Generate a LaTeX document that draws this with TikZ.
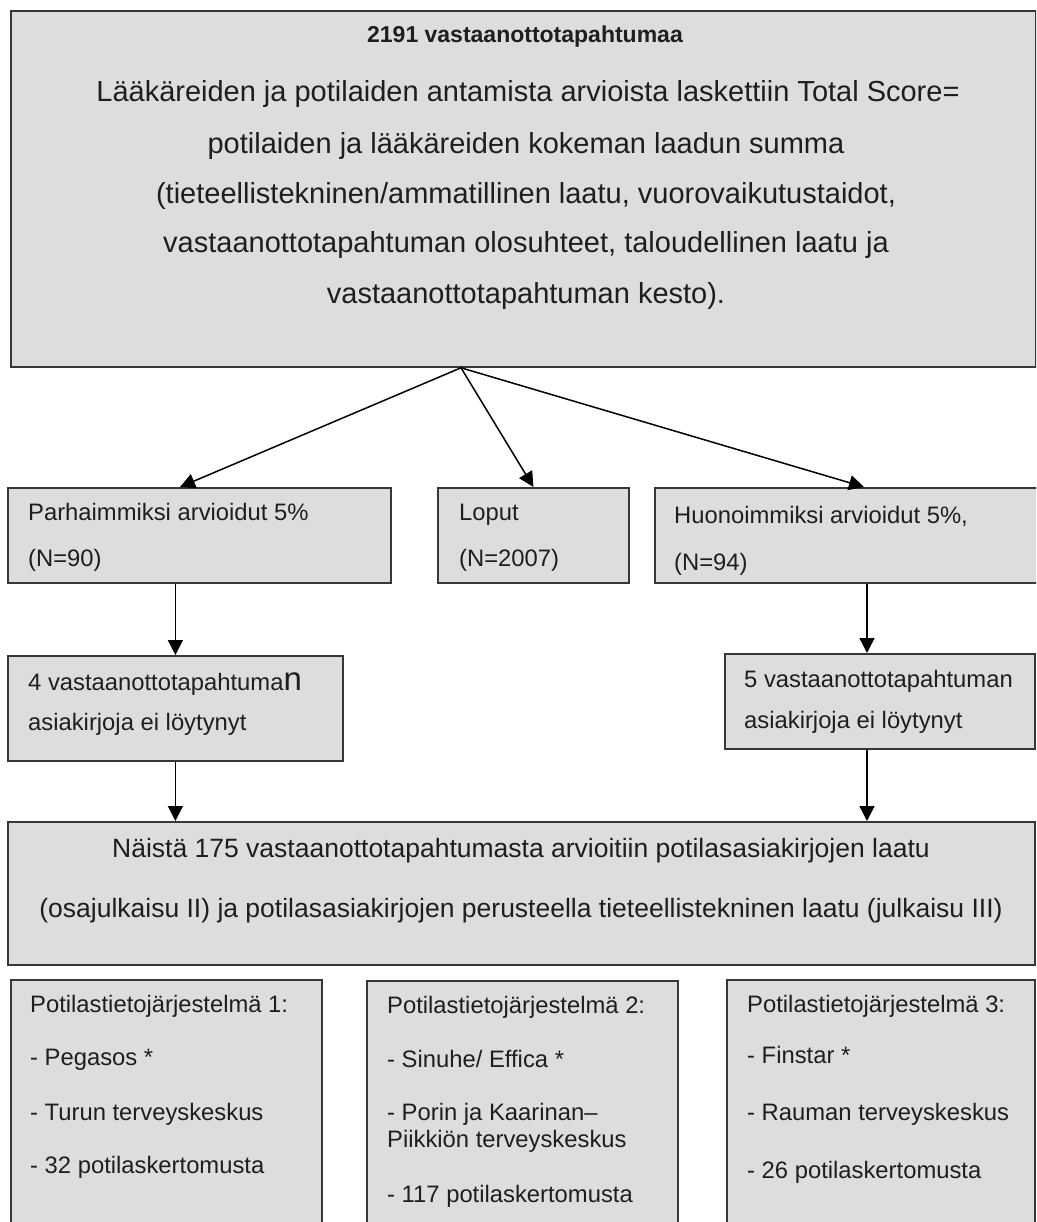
\documentclass[tikz,border=0pt]{standalone}
\usepackage{fontspec}
\setmainfont{Liberation Sans}
\usetikzlibrary{arrows.meta}
\definecolor{boxgray}{RGB}{220,221,223}
\definecolor{edgegray}{RGB}{55,55,55}
\definecolor{inkgray}{RGB}{30,30,30}
\tikzset{
  box/.style={draw=edgegray, line width=1.8pt, fill=boxgray, inner sep=0pt, anchor=north west, rectangle},
  txt/.style={inner sep=0pt, anchor=base west, text=inkgray, font=\fontsize{23.8}{28}\selectfont},
  ctxt/.style={inner sep=0pt, anchor=base, text=inkgray},
  arr/.style={draw=black, line width=1.5pt, -{Triangle[length=15pt,width=15pt]}},
}
\begin{document}
\begin{tikzpicture}[x=1pt,y=-1pt]
\useasboundingbox (0,0) rectangle (1036,1222);
\clip (0,0) rectangle (1036,1222);
\fill[white] (0,0) rectangle (1036,1222);

% boxes
\node[box, minimum width=1025pt, minimum height=356pt] (top) at (10,10) {};
\node[box, minimum width=383pt, minimum height=95pt] (best) at (7,487) {};
\node[box, minimum width=191pt, minimum height=95pt] (rest) at (437,487) {};
\node[box, minimum width=384pt, minimum height=95pt] (worst) at (654,487) {};
\node[box, minimum width=335pt, minimum height=105pt] (miss1) at (7,655) {};
\node[box, minimum width=310pt, minimum height=95pt] (miss2) at (724,653) {};
\node[box, minimum width=1027pt, minimum height=143pt] (total) at (7,821) {};
\node[box, minimum width=311pt, minimum height=300pt] (sys1) at (10,979) {};
\node[box, minimum width=311pt, minimum height=300pt] (sys2) at (366,980) {};
\node[box, minimum width=308pt, minimum height=300pt] (sys3) at (726,979) {};

% top box text
\node[ctxt, font=\bfseries\fontsize{23}{28}\selectfont] (t0) at (525,43) {2191 vastaanottotapahtumaa};
\node[ctxt, font=\fontsize{29}{34}\selectfont] (t1) at (528,102) {Lääkäreiden ja potilaiden antamista arvioista laskettiin Total Score=};
\node[ctxt, font=\fontsize{29}{34}\selectfont] (t2) at (526,154) {potilaiden ja lääkäreiden kokeman laadun summa};
\node[ctxt, font=\fontsize{29}{34}\selectfont] (t3) at (526,204) {(tieteellistekninen/ammatillinen laatu, vuorovaikutustaidot,};
\node[ctxt, font=\fontsize{29}{34}\selectfont] (t4) at (526,253) {vastaanottotapahtuman olosuhteet, taloudellinen laatu ja};
\node[ctxt, font=\fontsize{29}{34}\selectfont] (t5) at (526,304) {vastaanottotapahtuman kesto).};

% row 1 text
\node[txt] (b1) at (28,520) {Parhaimmiksi arvioidut 5\%};
\node[txt] (b2) at (28,566) {(N=90)};
\node[txt] (r1) at (459,520) {Loput};
\node[txt] (r2) at (459,566) {(N=2007)};
\node[txt] (w1) at (674,523) {Huonoimmiksi arvioidut 5\%,};
\node[txt] (w2) at (674,570) {(N=94)};

% row 2 text
\node[txt] (m11) at (28,690) {4 vastaanottotapahtuma{\fontsize{33}{36}\selectfont n}};
\node[txt] (m12) at (28,730) {asiakirjoja ei löytynyt};
\node[txt] (m21) at (744,687) {5 vastaanottotapahtuman};
\node[txt] (m22) at (744,728) {asiakirjoja ei löytynyt};

% total box text
\node[ctxt, font=\fontsize{26.5}{30}\selectfont] (n1) at (521,857) {Näistä 175 vastaanottotapahtumasta arvioitiin potilasasiakirjojen laatu};
\node[ctxt, font=\fontsize{26.5}{30}\selectfont] (n2) at (521,917) {(osajulkaisu II) ja potilasasiakirjojen perusteella tieteellistekninen laatu (julkaisu III)};

% system boxes text
\node[txt] (s11) at (30,1012) {Potilastietojärjestelmä 1:};
\node[txt] (s12) at (30,1065) {- Pegasos *};
\node[txt] (s13) at (30,1120) {- Turun terveyskeskus};
\node[txt] (s14) at (30,1173) {- 32 potilaskertomusta};

\node[txt] (s21) at (387,1013) {Potilastietojärjestelmä 2:};
\node[txt] (s22) at (387,1067) {- Sinuhe/ Effica *};
\node[txt] (s23) at (387,1120) {- Porin ja Kaarinan–};
\node[txt] (s24) at (387,1147) {Piikkiön terveyskeskus};
\node[txt] (s25) at (387,1202) {- 117 potilaskertomusta};

\node[txt] (s31) at (747,1012) {Potilastietojärjestelmä 3:};
\node[txt] (s32) at (747,1063) {- Finstar *};
\node[txt] (s33) at (747,1120) {- Rauman terveyskeskus};
\node[txt] (s34) at (747,1178) {- 26 potilaskertomusta};

% connectors
\coordinate (apex) at ([xshift=451pt]top.south west);
\coordinate (bestin) at ([xshift=173pt]best.north west);
\coordinate (worstin) at ([xshift=210pt]worst.north west);
\coordinate (m2top) at ([xshift=143pt]miss2.north west);
\draw[arr] (apex) -- (bestin);
\draw[arr] (apex) -- (rest.north);
\draw[arr] (apex) -- (worstin);
\draw[arr] (miss1.north |- best.south) -- (miss1.north);
\draw[arr] (m2top |- worst.south) -- (m2top);
\draw[arr] (miss1.south) -- (miss1.south |- total.north);
\draw[arr] (m2top |- miss2.south) -- (m2top |- total.north);
\end{tikzpicture}
\end{document}
